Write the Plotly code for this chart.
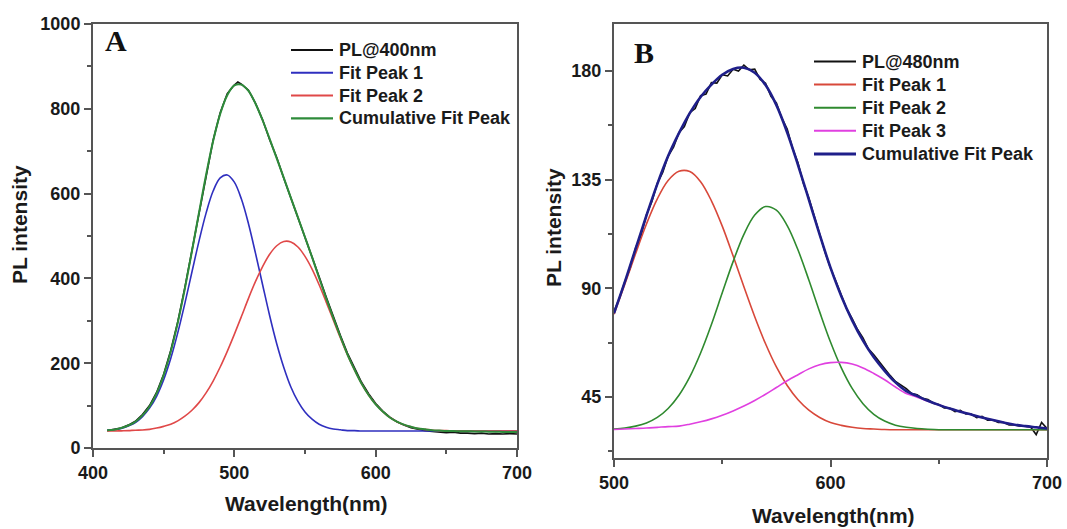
import plotly.graph_objects as go

# ---------------- Panel A data (wavelength nm, PL intensity) ----------------
wl_a = [410, 415, 420, 425, 430, 435, 440, 445, 450, 455, 460, 465, 470, 475, 480,
        485, 490, 495, 500, 505, 510, 515, 520, 525, 530, 535, 540, 545, 550, 555,
        560, 565, 570, 575, 580, 585, 590, 595, 600, 605, 610, 615, 620, 625, 630,
        635, 640, 645, 650, 655, 660, 665, 670, 675, 680, 685, 690, 695, 700]
fit1_a = [42, 43, 46, 52, 60, 74, 94, 122, 161, 211, 272, 341, 415, 488, 554,
          606, 637, 644, 627, 587, 529, 459, 385, 312, 246, 190, 144, 110, 85, 68,
          56, 49, 45, 43, 41, 41, 40, 40, 40, 40, 40, 40, 40, 40, 40,
          40, 40, 40, 40, 40, 40, 40, 40, 40, 40, 40, 40, 40, 40]
fit2_a = [40, 40, 40.5, 41, 42, 42.6, 44, 47, 51, 56, 64, 75, 89, 107, 130,
          158, 191, 228, 268, 310, 353, 393, 428, 457, 477, 487, 486, 474, 452, 422,
          385, 344, 302, 260, 220, 184, 152, 125, 103, 86, 72, 62, 55, 50, 46,
          44, 42, 41, 41, 40, 40, 40, 40, 40, 40, 40, 40, 40, 40]
cum_a = [42, 43, 47, 53, 62, 77, 98, 129, 172, 227, 296, 376, 464, 555, 644,
         724, 788, 832, 855, 857, 842, 812, 773, 729, 683, 637, 590, 544, 497, 450,
         401, 353, 307, 263, 221, 185, 152, 125, 103, 86, 72, 62, 55, 50, 46,
         44, 42, 41, 40, 40, 39.5, 39.5, 39, 39, 38.5, 38.5, 38, 38, 38]
pl_wl_a = [410, 415, 420, 425, 430, 435, 440, 445, 450, 455, 460, 465, 470, 475, 480,
           485, 490, 495, 500, 502.5, 505, 510, 515, 520, 525, 530, 535, 540, 545, 550,
           555, 560, 565, 570, 575, 580, 585, 590, 595, 600, 605, 610, 615, 620, 625,
           630, 635, 640, 645, 650, 655, 660, 665, 670, 675, 680, 685, 690, 695, 700]
pl_a = [41, 44, 47, 54, 63, 79, 100, 131, 174, 230, 298, 379, 466, 556, 646,
        726, 791, 836, 856, 863, 858, 844, 813, 774, 727, 685, 636, 590, 546, 497,
        452, 404, 356, 309, 266, 224, 188, 155, 128, 105, 87, 73, 62, 54, 48,
        44, 41, 39, 37, 36, 37, 35, 35, 34, 35, 33, 34, 33, 34, 33]

# ---------------- Panel B data ----------------
wl_b = [500, 505, 510, 515, 520, 525, 530, 535, 540, 545, 550, 555, 560, 565, 570,
        575, 580, 585, 590, 595, 600, 605, 610, 615, 620, 625, 630, 635, 640, 645,
        650, 655, 660, 665, 670, 675, 680, 685, 690, 695, 700]
fit1_b = [79.3, 91.7, 104.5, 116.7, 127.1, 134.7, 138.5, 138.4, 134.2, 126.3, 115.8, 103.5, 90.7, 78.3, 67.1,
          57.5, 49.8, 43.9, 39.6, 36.6, 34.5, 33.3, 32.5, 32.0, 31.8, 31.6, 31.5, 31.5, 31.5, 31.5,
          31.5, 31.5, 31.5, 31.5, 31.5, 31.5, 31.5, 31.5, 31.5, 31.5, 31.5]
fit2_b = [31.8, 32.2, 33.0, 34.3, 36.6, 40.3, 45.8, 53.4, 63.3, 75.1, 88.2, 101.1, 112.4, 120.4, 123.9,
          122.4, 116.0, 105.9, 93.5, 80.3, 67.8, 57.1, 48.6, 42.3, 37.9, 35.1, 33.4, 32.5, 32.0, 31.7,
          31.5, 31.5, 31.5, 31.5, 31.5, 31.5, 31.5, 31.5, 31.5, 31.5, 31.5]
fit3_b = [31.6, 31.8, 32.0, 32.2, 32.5, 32.8, 33.0, 33.8, 34.8, 36.0, 37.5, 39.3, 41.3, 43.6, 46.2,
          49.0, 51.8, 54.3, 56.7, 58.4, 59.3, 59.4, 58.7, 57.1, 54.8, 52.2, 49.2, 46.5, 45.0, 43.3,
          41.8, 40.3, 39.0, 37.8, 36.6, 35.5, 34.5, 33.6, 33.0, 32.5, 32.0]
cum_b = [79.7, 92.7, 106.5, 120.2, 133.2, 144.8, 154.3, 162.6, 169.3, 174.4, 178.5, 180.9, 181.4, 179.3, 174.2,
         165.9, 154.6, 141.1, 126.8, 112.3, 98.6, 86.8, 76.8, 68.4, 61.5, 55.9, 51.1, 47.5, 45.5, 43.5,
         41.8, 40.3, 39.0, 37.8, 36.6, 35.5, 34.5, 33.6, 33.0, 32.5, 32.0]
pl_wl_b = [500, 502.5, 505, 507.5, 510, 512.5, 515, 517.5, 520, 522.5, 525, 527.5, 530, 532.5,
           535, 537.5, 540, 542.5, 545, 547.5, 550, 552.5, 555, 557.5, 560, 562.5, 565, 567.5,
           570, 572.5, 575, 577.5, 580, 582.5, 585, 587.5, 590, 592.5, 595, 597.5, 600, 602.5,
           605, 607.5, 610, 612.5, 615, 617.5, 620, 622.5, 625, 627.5, 630, 632.5, 635, 637.5,
           640, 642.5, 645, 647.5, 650, 652.5, 655, 657.5, 660, 662.5, 665, 667.5, 670, 672.5,
           675, 677.5, 680, 682.5, 685, 687.5, 690, 692.5, 695, 697.5, 700]
pl_b = [80.5, 86, 92.8, 98.5, 106.8, 112, 120.5, 126, 133.5, 138, 144.8, 148.5, 154.5, 157,
        162.8, 164.5, 169.8, 170.5, 175.2, 175, 178.5, 178, 180.8, 180, 182.5, 180.5, 180.8, 176.5,
        175, 169.5, 166.8, 160.5, 156, 148, 142, 133.5, 127.5, 119.5, 112.5, 105, 98.5, 93,
        87.5, 81.5, 77.5, 73, 69.5, 65, 62.5, 59.5, 57, 54, 51.5, 50, 48.5, 46.5,
        46, 44.5, 44, 42.5, 42, 40.5, 40.5, 39, 39.5, 38, 38, 36.5, 37, 35.5,
        35.5, 34.5, 34.5, 33.5, 33.5, 33, 33, 32.5, 29.5, 34.5, 32]

# legend labels / colours
names_a = ["PL@400nm", "Fit Peak 1", "Fit Peak 2", "Cumulative Fit Peak"]
colors_a = ["#111111", "#2f2fbf", "#e04848", "#2e8b3a"]
widths_a = [1.6, 1.6, 1.6, 2.0]
names_b = ["PL@480nm", "Fit Peak 1", "Fit Peak 2", "Fit Peak 3", "Cumulative Fit Peak"]
colors_b = ["#111111", "#d8483a", "#2f8a2f", "#e040e0", "#1f1f8a"]
widths_b = [1.6, 1.6, 1.6, 1.6, 2.6]

W, H = 1067, 529
FONT = "Liberation Sans"
FRAME = "#555555"
TXT = "#1a1a1a"

fig = go.Figure()

series_a = [(pl_wl_a, pl_a, "linear"), (wl_a, fit1_a, "spline"), (wl_a, fit2_a, "spline"), (wl_a, cum_a, "spline")]
for (xs, ys, shp), nm, c, w in zip(series_a, names_a, colors_a, widths_a):
    fig.add_trace(go.Scatter(x=xs, y=ys, mode="lines", name=nm, line_shape=shp,
                             line=dict(color=c, width=w), xaxis="x", yaxis="y", showlegend=False))

series_b = [(pl_wl_b, pl_b, "linear"), (wl_b, fit1_b, "spline"), (wl_b, fit2_b, "spline"),
            (wl_b, fit3_b, "spline"), (wl_b, cum_b, "spline")]
for (xs, ys, shp), nm, c, w in zip(series_b, names_b, colors_b, widths_b):
    fig.add_trace(go.Scatter(x=xs, y=ys, mode="lines", name=nm, line_shape=shp,
                             line=dict(color=c, width=w), xaxis="x2", yaxis="y2", showlegend=False))

tickfont = dict(family=FONT, size=18, color=TXT, weight="bold")
common = dict(showline=True, mirror=True, linecolor=FRAME, linewidth=2, showgrid=False,
              zeroline=False, ticks="outside", ticklen=7, tickwidth=1.5, tickcolor=FRAME,
              tickfont=tickfont, automargin=False)

annotations = [
    dict(text="Wavelength(nm)", x=306 / W, y=1 - 503 / H),
    dict(text="Wavelength(nm)", x=833 / W, y=1 - 515 / H),
    dict(text="PL intensity", x=19 / W, y=1 - 225 / H, textangle=-90),
    dict(text="PL intensity", x=553 / W, y=1 - 228 / H, textangle=-90),
]
for a in annotations:
    a.update(xref="paper", yref="paper", showarrow=False, xanchor="center", yanchor="middle",
             font=dict(family=FONT, size=21, color=TXT, weight="bold"))
for letter, lx, ly in [("A", 116, 41), ("B", 644, 52)]:
    annotations.append(dict(text=letter, x=lx / W, y=1 - ly / H, xref="paper", yref="paper",
                            showarrow=False, xanchor="center", yanchor="middle",
                            font=dict(family="Liberation Serif", size=30, color="#111111", weight="bold")))

# hand-placed legends (line sample + label)
shapes = []
def add_legend(names, colors, widths, x0, x1, xt, y0, dy):
    for i, (nm, c, w) in enumerate(zip(names, colors, widths)):
        yy = 1 - (y0 + i * dy) / H
        shapes.append(dict(type="line", xref="paper", yref="paper", x0=x0 / W, x1=x1 / W,
                           y0=yy, y1=yy, line=dict(color=c, width=w + 0.4)))
        annotations.append(dict(text=nm, x=xt / W, y=yy, xref="paper", yref="paper", showarrow=False,
                                xanchor="left", yanchor="middle",
                                font=dict(family=FONT, size=18, color=TXT, weight="bold")))

add_legend(names_a, colors_a, widths_a, 291, 333, 337, 50, 22.8)
add_legend(names_b, colors_b, widths_b, 814, 856, 860, 61.5, 23.1)

fig.update_layout(
    width=W, height=H,
    margin=dict(l=0, r=0, t=0, b=0),
    paper_bgcolor="white", plot_bgcolor="white",
    showlegend=False,
    xaxis=dict(domain=[93 / W, 517 / W], range=[400, 700], anchor="y", tick0=400, dtick=100,
               minor=dict(dtick=50, ticklen=4, tickcolor=FRAME, ticks="outside"), **common),
    yaxis=dict(domain=[1 - 448 / H, 1 - 24 / H], range=[0, 1000], anchor="x", tick0=0, dtick=200,
               minor=dict(dtick=100, ticklen=4, tickcolor=FRAME, ticks="outside"), **common),
    xaxis2=dict(domain=[614 / W, 1047 / W], range=[500, 700], anchor="y2", tick0=500, dtick=100,
                minor=dict(dtick=50, ticklen=4, tickcolor=FRAME, ticks="outside"), **common),
    yaxis2=dict(domain=[1 - 458 / H, 1 - 24 / H], range=[19.8, 199.5], anchor="x2", tick0=0, dtick=45,
                minor=dict(dtick=22.5, ticklen=4, tickcolor=FRAME, ticks="outside"), **common),
    annotations=annotations,
    shapes=shapes,
)

fig.write_html("out.html")
